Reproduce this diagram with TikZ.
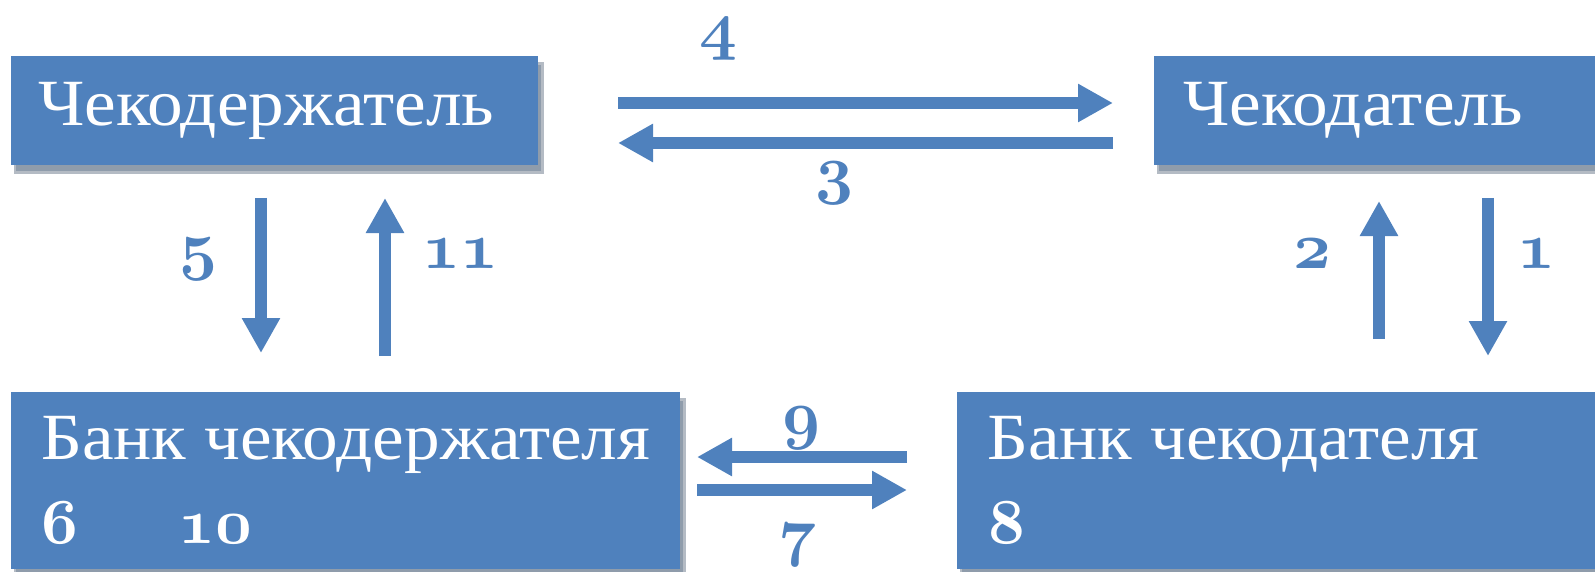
\documentclass[tikz,border=0pt]{standalone}
\usepackage{fontspec}
\setmainfont[FakeStretch=1.08]{Liberation Serif}
\usetikzlibrary{arrows.meta}
\font\osflab=cmmib10 at 66pt
\font\osfbox=cmmib10 at 64pt
\definecolor{boxblue}{HTML}{4F81BD}
\definecolor{shdark}{HTML}{8F9CAB}
\definecolor{shlight}{HTML}{B4BBC4}
\pgfdeclarelayer{bg}
\pgfsetlayers{bg,main}
\tikzset{
  box/.style={fill=boxblue, draw=none, inner sep=0pt, rectangle},
  boxtext/.style={anchor=base west, inner sep=0pt, text=white, font=\fontsize{66pt}{70pt}\selectfont},
  boxnum/.style={anchor=base, inner sep=0pt, text=white, font=\osfbox},
  lab/.style={anchor=base, inner sep=0pt, text=boxblue, font=\osflab},
  flow/.style={draw=boxblue, line width=12pt, -{Triangle[length=35pt,width=36pt]}},
}
\begin{document}
\begin{tikzpicture}[x=1pt,y=-1pt]
\useasboundingbox (0,0) rectangle (1595,572);
\clip (0,0) rectangle (1595,572);
% boxes
\node[box, minimum width=527pt, minimum height=109pt] (b1) at (274.5,110.5) {};
\node[box, minimum width=443pt, minimum height=109pt] (b2) at (1375.5,110.5) {};
\node[box, minimum width=669pt, minimum height=177pt] (b3) at (345.5,480.5) {};
\node[box, minimum width=640pt, minimum height=177pt] (b4) at (1277,480.5) {};
\begin{pgfonlayer}{bg}
\foreach \b in {b1,b2,b3,b4}{
  \fill[shlight] ([xshift=3pt,yshift=-6pt]\b.north west) rectangle ([xshift=6pt,yshift=-9pt]\b.south east);
  \fill[shdark] ([xshift=5pt,yshift=-9pt]\b.north west) rectangle ([xshift=3pt,yshift=-6pt]\b.south east);
}
\end{pgfonlayer}
% box texts
\node[boxtext] (t1) at (38,126) {Чекодержатель};
\node[boxtext] (t2) at (1183,126) {Чекодатель};
\node[boxtext] (t3) at (41,459) {Банк чекодержателя};
\node[boxtext] (t4) at (987,459) {Банк чекодателя};
\node[boxnum] (n6) at (60,543) {6};
\node[boxnum] (n10) at (215,543) {10};
\node[boxnum] (n8) at (1007,543) {8};
% arrow end points
\coordinate (a4s) at (618,103);  \coordinate (a4e) at (1113,103);
\coordinate (a3s) at (1113,143); \coordinate (a3e) at (618,143);
\coordinate (a5s) at (261,198);  \coordinate (a5e) at (261,353);
\coordinate (a11s) at (385,356); \coordinate (a11e) at (385,198);
\coordinate (a2s) at (1379,339); \coordinate (a2e) at (1379,201);
\coordinate (a1s) at (1488,198); \coordinate (a1e) at (1488,356);
\coordinate (a9s) at (907,457);  \coordinate (a9e) at (697,457);
\coordinate (a7s) at (697,490);  \coordinate (a7e) at (907,490);
\draw[flow] (a4s) -- (a4e);
\draw[flow] (a3s) -- (a3e);
\draw[flow] (a5s) -- (a5e);
\draw[flow] (a11s) -- (a11e);
\draw[flow] (a2s) -- (a2e);
\draw[flow] (a1s) -- (a1e);
\draw[flow] (a9s) -- (a9e);
\draw[flow] (a7s) -- (a7e);
% labels
\node[lab] (l4) at (718,48) {4};
\node[lab] (l3) at (834,192) {3};
\node[lab] (l5) at (198,267) {5};
\node[lab] (l11) at (460,268) {11};
\node[lab] (l2) at (1312,268) {2};
\node[lab] (l1) at (1536,268) {1};
\node[lab] (l9) at (801,436) {9};
\node[lab] (l7) at (797,553) {7};
\end{tikzpicture}
\end{document}
